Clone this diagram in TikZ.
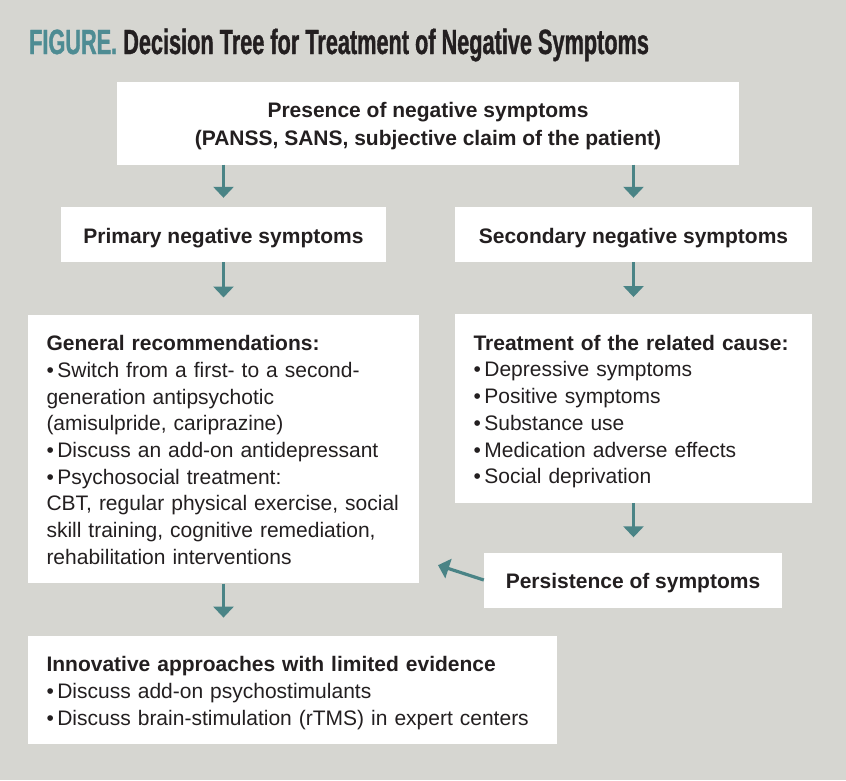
\documentclass[tikz,border=0pt]{standalone}
\usepackage{fontspec}
\setmainfont{Liberation Sans}
\newfontfamily\titlefont{Liberation Sans}[FakeStretch=0.62, FakeBold=1]
\usepackage{tikz}
\usetikzlibrary{positioning, arrows.meta, calc}
\definecolor{PaperGray}{HTML}{D6D6D1}
\definecolor{FlowTeal}{HTML}{4A8486}
\definecolor{TitleTeal}{HTML}{4E8C93}
\definecolor{InkBlack}{HTML}{231F20}

\begin{document}
\begin{tikzpicture}[
    x=1pt, y=-1pt,
    panel/.style={fill=white, text=InkBlack, inner xsep=18.5pt, inner ysep=18pt,
      text height=18pt, text depth=1pt,
      font=\fontsize{21}{26.7}\selectfont},
    head/.style={panel, align=center, font=\fontsize{21}{28}\selectfont\bfseries},
    listbox/.style={panel, align=left},
    flow/.style={draw=FlowTeal, line width=3.2pt, -{Triangle[width=20pt,length=11pt]}}
]
  % background and frame
  \fill[PaperGray] (0,0) rectangle (846,780);
  \useasboundingbox (0,0) rectangle (846,780);
  % Title
  \node[anchor=base west, inner sep=0pt, font=\titlefont\bfseries\fontsize{35}{40}\selectfont]
    (title) at (29,54) {\textcolor{TitleTeal}{FIGURE.} \textcolor{InkBlack}{Decision Tree for Treatment of Negative Symptoms}};
  % Boxes
  \node[head, minimum width=622pt, text height=46pt] (pres) at (428,123)
    {Presence of negative symptoms\\(PANSS, SANS, subjective claim of the patient)};
  \node[head, minimum width=325pt] (prim) at (223.5,234.5) {Primary negative symptoms};
  \node[head, minimum width=357pt] (sec) at (633.5,234.5) {Secondary negative symptoms};
  \node[listbox, text width=354pt, text depth=214.6pt] (general) at (223.5,449)
    {\textbf{General recommendations:}\\
     •\,Switch from a first- to a second-\\
     generation antipsychotic\\
     (amisulpride, cariprazine)\\
     •\,Discuss an add-on antidepressant\\
     •\,Psychosocial treatment:\\
     CBT, regular physical exercise, social\\
     skill training, cognitive remediation,\\
     rehabilitation interventions};
  \node[listbox, text width=320pt, text depth=134.5pt] (cause) at (633.5,408.5)
    {\textbf{Treatment of the related cause:}\\
     •\,Depressive symptoms\\
     •\,Positive symptoms\\
     •\,Substance use\\
     •\,Medication adverse effects\\
     •\,Social deprivation};
  \node[head, minimum width=298pt] (persist) at (633,580) {Persistence of symptoms};
  \node[listbox, text width=492pt, text depth=54.4pt] (innov) at (292.5,690)
    {\textbf{Innovative approaches with limited evidence}\\
     •\,Discuss add-on psychostimulants\\
     •\,Discuss brain-stimulation (rTMS) in expert centers};
  % Arrows
  \coordinate (back) at (419,559);
  \draw[flow, shorten >=9pt] (pres.south -| prim.north) -- (prim.north);
  \draw[flow, shorten >=9pt] (pres.south -| sec.north) -- (sec.north);
  \draw[flow, shorten >=17pt] (prim.south) -- (general.north);
  \draw[flow, shorten >=17pt] (sec.south) -- (cause.north);
  \draw[flow, shorten >=15pt] (cause.south) -- (cause.south |- persist.north);
  \draw[flow, shorten >=18pt] (general.south) -- (general.south |- innov.north);
  \draw[flow, shorten >=20pt] (persist.west) -- (back);
\end{tikzpicture}
\end{document}
